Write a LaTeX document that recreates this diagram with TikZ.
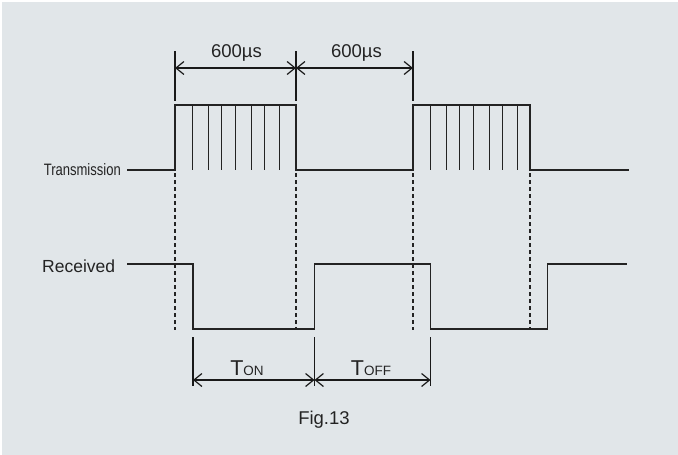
\documentclass[tikz,border=0pt]{standalone}
\usepackage{fontspec}
\setmainfont{Liberation Sans}
\usepackage{graphicx}
\usetikzlibrary{arrows.meta}
\definecolor{bg}{RGB}{225,230,233}
\definecolor{ink}{RGB}{35,35,35}
\tikzset{
  sig/.style={draw=ink, line width=1.6pt, line join=miter},
  hatch/.style={draw=ink, line width=0.7pt},
  guide/.style={draw=ink, line width=1.2pt, dash pattern=on 4pt off 3pt},
  ext/.style={draw=black!90, line width=1.6pt},
  dimarrow/.style={draw=black!90, line width=1.6pt, {Straight Barb[length=8pt,width=13pt,line width=1.2pt]}-{Straight Barb[length=8pt,width=13pt,line width=1.2pt]}},
  lbl/.style={text=ink, inner sep=0pt, font=\fontsize{18.5pt}{20pt}\selectfont},
}
\begin{document}
\begin{tikzpicture}[x=1pt,y=-1pt]
\useasboundingbox (0,0) rectangle (678,455);
\fill[white] (0,0) rectangle (678,455);
\fill[bg] (2,1.5) rectangle (678,455);

% Transmission signal
\coordinate (t0) at (127,170);
\coordinate (t1) at (175,170);
\coordinate (t2) at (296,170);
\coordinate (t3) at (413,170);
\coordinate (t4) at (530,170);
\coordinate (t5) at (629,170);
\draw[sig] (t0) -- (t1) -- (175,105) -- (296,105) -- (t2) -- (t3) -- (413,105) -- (530,105) -- (t4) -- (t5);
\foreach \d in {17,33,46.5,60.5,76.5,89,104.5}{
  \draw[hatch] (175+\d,105) -- (175+\d,170);
  \draw[hatch] (413+\d,105) -- (413+\d,170);
}
\node[lbl, anchor=east, font=\fontsize{16.5pt}{18pt}\selectfont] (tx) at (121,170) {\scalebox{0.79}[1]{Transmission}};

% Received signal
\coordinate (r0) at (127,264);
\coordinate (r1) at (193,264);
\coordinate (r2) at (314.5,329);
\coordinate (r3) at (430.5,264);
\coordinate (r4) at (547.5,329);
\coordinate (r5) at (627,264);
\draw[sig] (r0) -- (r1) -- (193,329) -- (r2) -- (314.5,264) -- (r3) -- (430.5,329) -- (r4) -- (547.5,264) -- (r5);
\node[lbl, anchor=west, font=\fontsize{17.5pt}{19pt}\selectfont] (rx) at (42,266) {Received};

% Dashed guides
\foreach \x in {175,296,413,530}{
  \draw[guide] (\x,173) -- (\x,330);
}

% Top dimensions
\coordinate (a1) at (175,68);
\coordinate (a2) at (296,68);
\coordinate (a3) at (413,68);
\draw[ext] (175,51) -- (175,101);
\draw[ext] (296,51) -- (296,101);
\draw[ext] (413,51) -- (413,101);
\draw[dimarrow] (a1) -- (a2);
\draw[dimarrow] (a2) -- (a3);
\node[lbl] (d1) at (236.5,52.5) {600µs};
\node[lbl] (d2) at (356.5,52.5) {600µs};

% Bottom dimensions
\coordinate (b1) at (193,380);
\coordinate (b2) at (314.5,380);
\coordinate (b3) at (430.5,380);
\draw[ext] (193,337) -- (193,386);
\draw[ext] (314.5,337) -- (314.5,386);
\draw[ext] (430.5,337) -- (430.5,386);
\draw[dimarrow] (b1) -- (b2);
\draw[dimarrow] (b2) -- (b3);
\node[lbl, anchor=base] (ton) at (247,375.5) {{\fontsize{21.5pt}{22pt}\selectfont T}{\fontsize{13.5pt}{14pt}\selectfont ON}};
\node[lbl, anchor=base] (toff) at (371,375.5) {{\fontsize{21.5pt}{22pt}\selectfont T}{\fontsize{13.5pt}{14pt}\selectfont OFF}};

\node[lbl, font=\fontsize{18.5pt}{20pt}\selectfont] (fig) at (324,420) {Fig.13};
\end{tikzpicture}
\end{document}
